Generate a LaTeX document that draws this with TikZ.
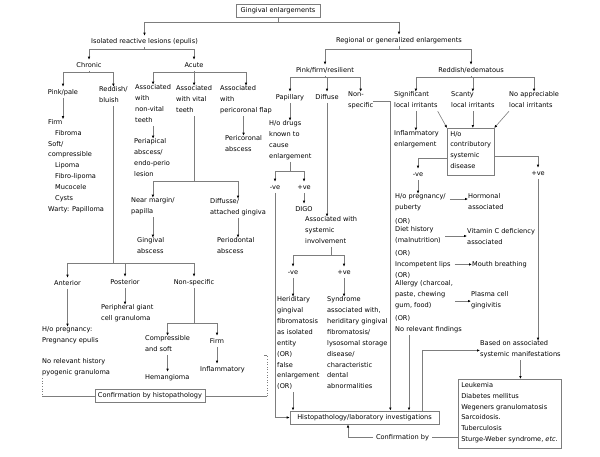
\documentclass[tikz,border=0pt]{standalone}
\usepackage{fontspec}
\setmainfont{DejaVu Sans}
\usetikzlibrary{arrows.meta}

\definecolor{linegray}{RGB}{125,125,125}

\begin{document}
\begin{tikzpicture}[x=1pt,y=-1pt,
  font=\fontsize{6.6}{10.85}\selectfont,
  ln/.style={draw=linegray,line width=0.6pt},
  arr/.style={ln,-{Latex[length=3pt,width=2.6pt,color=black]}},
  lt/.style={anchor=north west,inner sep=0pt,align=left,yshift=5.3pt,
    execute at begin node=\strut,execute at end node=\strut},
  ct/.style={lt,anchor=north,align=center},
  box/.style={draw=linegray,line width=0.6pt,inner xsep=4.5pt,inner ysep=3.5pt},
  tbox/.style={draw=linegray,line width=0.6pt,anchor=north west,align=left,inner sep=3pt,
    execute at begin node=\strut,execute at end node=\strut}]

\useasboundingbox (0,0) rectangle (600,456);

\node[box] (root) at (278,11) {Gingival enlargements};
\node[ct] (iso) at (144.5,41) {Isolated reactive lesions (epulis)};
\node[ct] (reg) at (399,40) {Regional or generalized enlargements};

\node[ct] (chron) at (89,65) {Chronic};
\node[ct] (acute) at (194,65) {Acute};
\node[ct] (pink) at (63,92) {Pink/pale};
\node[lt] (redd) at (99,92) {Reddish/\\bluish};
\node[lt] (firml) at (48,124.5) {Firm\\\hspace*{7pt}Fibroma\\Soft/\\compressible\\\hspace*{7pt}Lipoma\\\hspace*{7pt}Fibro-lipoma\\\hspace*{7pt}Mucocele\\\hspace*{7pt}Cysts\\Warty: Papilloma};
\node[lt] (nv) at (135,90) {Associated\\with\\non-vital\\teeth};
\node[lt] (vt) at (176,91) {Associated\\with vital\\teeth};
\node[lt] (pf) at (220,91) {Associated\\with\\pericoronal flap};
\node[lt] (peri) at (134,144) {Periapical\\abscess/\\endo-perio\\lesion};
\node[lt] (pcabs) at (225,141) {Pericoronal\\abscess};
\node[lt] (near) at (131,203) {Near margin/\\papilla};
\node[lt] (diffa) at (210,204) {Diffusse/\\attached gingiva};
\node[lt] (gabs) at (137,243) {Gingival\\abscess};
\node[lt] (pabs) at (217,243) {Periodontal\\abscess};
\node[ct] (ant) at (67.5,283) {Anterior};
\node[ct] (post) at (125,282) {Posterior};
\node[ct] (nsp) at (194,282) {Non-specific};
\node[lt] (pgcg) at (101,310) {Peripheral giant\\cell granuloma};
\node[lt] (hop) at (42,332) {H/o pregnancy:\\Pregnancy epulis};
\node[lt] (nrh) at (42,364) {No relevant history\\pyogenic granuloma};
\node[lt] (comp) at (145,341) {Compressible\\and soft};
\node[ct] (firm) at (217,341) {Firm};
\node[lt] (hem) at (145,377) {Hemangioma};
\node[lt] (infl) at (200,369) {Inflammatory};
\node[box,inner xsep=3pt] (conf1) at (150,396) {Confirmation by histopathology};
\coordinate (dotR) at (267,355);

\node[ct] (pfr) at (325,70) {Pink/firm/resilient};
\node[ct] (red) at (471,70) {Reddish/edematous};
\node[ct] (pap) at (290,97) {Papillary};
\node[ct] (dif) at (327,97) {Diffuse};
\node[lt] (nsp2) at (348,97) {Non-\\specific};
\node[lt] (drugs) at (269,126) {H/o drugs\\known to\\cause\\enlargement};
\node[ct] (neg1) at (275,187) {-ve};
\node[ct] (pos1) at (304,187) {+ve};
\node[ct] (digo) at (304,209) {DIGO};
\node[lt] (asi) at (305,222) {Associated with\\systemic\\involvement};
\node[ct] (neg2) at (293,272) {-ve};
\node[ct] (pos2) at (344,272) {+ve};
\node[lt] (her) at (277,302) {Heriditary\\gingival\\fibromatosis\\as isolated\\entity\\(OR)\\false\\enlargement\\(OR)};
\node[lt] (syn) at (327,302) {Syndrome\\associated with,\\heriditary gingival\\fibromatosis/\\lysosomal storage\\disease/\\characteristic\\dental\\abnormalities};
\node[box,minimum width=149pt] (histo) at (364.5,417.5) {Histopathology/laboratory investigations};

\node[lt] (sig) at (394,97) {Significant\\local irritants};
\node[lt] (sca) at (451,97) {Scanty\\local irritants};
\node[lt] (noap) at (509,97) {No appreciable\\local irritants};
\node[lt] (infe) at (394,136) {Inflammatory\\enlargement};
\node[tbox] (hcsd) at (447,128) {H/o\\contributory\\systemic\\disease};
\node[ct] (neg3) at (418,174) {-ve};
\node[ct] (pos3) at (538,173) {+ve};
\node[lt] (preg) at (395,199) {H/o pregnancy/\\puberty};
\node[lt] (or1) at (395,220.7) {(OR)};
\node[lt] (diet) at (395,231.55) {Diet history\\(malnutrition)};
\node[lt] (or2) at (395,253.25) {(OR)};
\node[lt] (inc) at (395,264.1) {Incompetent lips};
\node[lt] (or3) at (395,274.95) {(OR)};
\node[lt] (allg) at (395,285.8) {Allergy (charcoal,\\paste, chewing\\gum, food)};
\node[lt] (or4) at (395,318.35) {(OR)};
\node[lt] (norf) at (395,329.2) {No relevant findings};
\node[lt] (horm) at (468,199) {Hormonal\\associated};
\node[lt] (vitc) at (467,234) {Vitamin C deficiency\\associated};
\node[lt] (mb) at (472,264.1) {Mouth breathing};
\node[lt] (pcg) at (471,296.65) {Plasma cell\\gingivitis};
\node[lt] (based) at (480,346) {Based on associated\\systemic manifestations};
\node[tbox] (leuk) at (458,379) {Leukemia\\Diabetes mellitus\\Wegeners granulomatosis\\Sarcoidosis.\\Tuberculosis\\Sturge-Weber syndrome, \textit{etc.}};
\node[ct,inner xsep=2.5pt] (conf2) at (402.5,437) {Confirmation by};

\draw[arr] (root.south) -- (root.south |- 0,22) -| (iso.north);
\draw[arr] (root.south |- 0,22) -| (reg.north);
\draw[arr] (iso.south) -- (iso.south |- 0,49) -| (chron.north);
\draw[arr] (iso.south |- 0,49) -| (acute.north);
\draw[arr] (chron.south) -- (chron.south |- 0,72) -| (pink.north);
\draw[arr] (chron.south |- 0,72) -| (redd.north);
\draw[arr] (pink.south) -- (pink.south |- firml.north);
\draw[arr] (acute.south) -- (acute.south |- 0,72) -| (nv.north);
\draw[arr] (acute.south |- 0,72) -| (vt.north);
\draw[arr] (acute.south |- 0,72) -| (pf.north);
\draw[arr] (nv.south) -- (nv.south |- peri.north);
\draw[arr] (pf.south -| pcabs.north) -- (pcabs.north);
\draw[arr] (vt.south) -- (vt.south |- 0,181) -| (near.north);
\draw[arr] (vt.south |- 0,181) -| (diffa.north);
\draw[arr] (near.south) -- (near.south |- gabs.north);
\draw[arr] (diffa.south) -- (diffa.south |- pabs.north);
\draw[arr] (redd.south) -- (redd.south |- 0,263) -| (ant.north);
\draw[arr] (redd.south |- 0,263) -| (post.north);
\draw[arr] (redd.south |- 0,263) -| (nsp.north);
\draw[arr] (ant.south) -- (ant.south |- hop.north);
\draw[arr] (post.south) -- (post.south |- pgcg.north);
\draw[arr] (nsp.south) -- (nsp.south |- 0,323) -| (comp.north);
\draw[arr] (nsp.south |- 0,323) -| (firm.north);
\draw[arr] (comp.south) -- (comp.south |- hem.north);
\draw[arr] (firm.south) -- (firm.south |- infl.north);
\draw[ln,dotted] (nrh.south west) -- (nrh.south west |- conf1.west);
\draw[ln] (nrh.south west |- conf1.west) -- (conf1.west);
\draw[ln] (conf1.east) -- (conf1.east -| dotR);
\draw[ln,dotted] (conf1.east -| dotR) -- (dotR);
\draw[ln] (dotR) -- ++(-3,0);

\draw[arr] (reg.south) -- (reg.south |- 0,49) -| (pfr.north);
\draw[arr] (reg.south |- 0,49) -| (red.north);
\draw[arr] (pfr.south) -- (pfr.south |- 0,77) -| (pap.north);
\draw[arr] (pfr.south |- 0,77) -| (dif.north);
\draw[arr] (pfr.south |- 0,77) -| (nsp2.north);
\draw[arr] (pap.south) -- (pap.south |- drugs.north);
\draw[arr] (drugs.south) -- (drugs.south |- 0,171) -| (neg1.north);
\draw[arr] (drugs.south |- 0,171) -| (pos1.north);
\draw[arr] (pos1.south) -- (digo.north);
\draw[arr] (neg1.south) |- (histo.west);
\draw[arr] (dif.south) -- (dif.south |- asi.north);
\draw[arr] (asi.south) -- (asi.south |- 0,255) -| (neg2.north);
\draw[arr] (asi.south |- 0,255) -| (pos2.north);
\draw[arr] (neg2.south) -- (neg2.south |- her.north);
\draw[arr] (pos2.south) -- (pos2.south |- syn.north);
\draw[arr] (neg2.south |- her.south) -- (neg2.south |- histo.north);
\draw[arr] (nsp2.east) -- ++(17,0) coordinate (nsk) -- (nsk |- histo.north);

\draw[arr] (red.south) -- (red.south |- 0,77) -| (sig.north);
\draw[arr] (red.south |- 0,77) -| (sca.north);
\draw[arr] (red.south |- 0,77) -| (noap.north);
\draw[arr] (sig.south) -- (sig.south |- infe.north);
\draw[arr] (sig.south east) -- (hcsd.north west);
\draw[arr] (sca.south) -- (sca.south |- hcsd.north);
\draw[arr] (noap.south west) -- (hcsd.north east);
\draw[arr] ([yshift=-7pt]hcsd.west) -| (neg3.north);
\draw[arr] ([yshift=-5pt]hcsd.east) -| (pos3.north);
\draw[arr] (neg3.south) -- (neg3.south |- preg.north);
\draw[arr] ([xshift=4pt,yshift=-5.3pt]preg.north east) -- ([yshift=-5.3pt]horm.north west);
\draw[arr] ([xshift=4pt]diet.east) -- (vitc.west |- diet.east);
\draw[arr] ([xshift=4pt]inc.east) -- (mb.west);
\draw[arr] ([xshift=2pt]allg.east |- pcg.west) -- (pcg.west);
\draw[arr] ([xshift=14pt]norf.south west) -- ([xshift=14pt]norf.south west |- histo.north);
\draw[arr] ([xshift=57.5pt]histo.north) |- (based.west);
\draw[arr] (pos3.south) -- (pos3.south |- based.north);
\draw[arr] (based.south) -- (based.south |- leuk.north);
\draw[ln] (leuk.west |- conf2.east) -- (conf2.east);
\draw[arr] (conf2.west) -| ([xshift=-16.5pt]histo.south);
\end{tikzpicture}
\end{document}
